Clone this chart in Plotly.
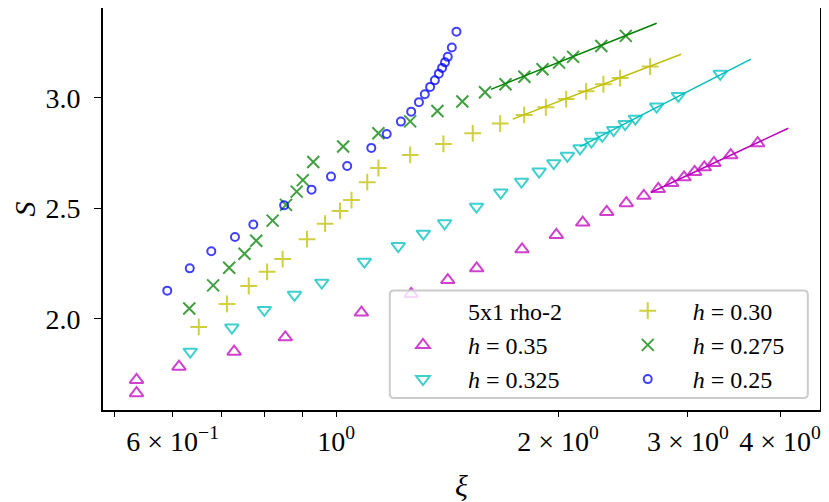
import plotly.graph_objects as go

# h = 0.25
xi_25 = [0.590, 0.633, 0.677, 0.729, 0.772, 0.850, 0.926, 0.984, 1.035, 1.116, 1.171, 1.224,
         1.264, 1.295, 1.319, 1.341, 1.361, 1.378, 1.392, 1.405, 1.417, 1.435, 1.456]
S_25 = [2.128, 2.229, 2.306, 2.371, 2.427, 2.514, 2.585, 2.644, 2.692, 2.774, 2.837, 2.893,
        2.938, 2.981, 3.017, 3.050, 3.080, 3.110, 3.136, 3.161, 3.186, 3.228, 3.300]

# h = 0.275
xi_275 = [0.632, 0.681, 0.716, 0.751, 0.779, 0.820, 0.855, 0.884, 0.901, 0.931, 1.022, 1.141,
          1.260, 1.372, 1.483, 1.592, 1.697, 1.800, 1.905, 2.006, 2.096, 2.289, 2.471]
S_275 = [2.047, 2.152, 2.232, 2.295, 2.354, 2.445, 2.516, 2.576, 2.628, 2.710, 2.780, 2.840,
         2.894, 2.941, 2.984, 3.026, 3.062, 3.096, 3.130, 3.160, 3.186, 3.235, 3.281]

# h = 0.30
xi_30 = [0.651, 0.711, 0.761, 0.806, 0.846, 0.913, 0.966, 1.012, 1.049, 1.102, 1.141, 1.260,
         1.398, 1.532, 1.669, 1.799, 1.925, 2.051, 2.183, 2.304, 2.427, 2.666]
S_30 = [1.964, 2.068, 2.149, 2.213, 2.271, 2.361, 2.431, 2.489, 2.538, 2.619, 2.683, 2.742,
        2.792, 2.840, 2.884, 2.923, 2.958, 2.995, 3.030, 3.062, 3.090, 3.142]

# h = 0.325
xi_325 = [0.634, 0.722, 0.799, 0.878, 0.956, 1.092, 1.214, 1.313, 1.403, 1.550, 1.672, 1.784,
          1.885, 1.973, 2.059, 2.142, 2.219, 2.296, 2.379, 2.466, 2.546, 2.721, 2.912, 3.319]
S_325 = [1.852, 1.961, 2.041, 2.109, 2.164, 2.259, 2.330, 2.386, 2.433, 2.508, 2.572, 2.621,
         2.667, 2.705, 2.738, 2.772, 2.802, 2.829, 2.855, 2.882, 2.906, 2.961, 3.009, 3.109]

# h = 0.35
xi_35 = [0.536, 0.536, 0.612, 0.727, 0.853, 1.082, 1.264, 1.417, 1.551, 1.787, 1.989, 2.160,
         2.328, 2.475, 2.614, 2.735, 2.852, 2.964, 3.064, 3.158, 3.254, 3.429, 3.730]
S_35 = [1.724, 1.664, 1.784, 1.852, 1.917, 2.029, 2.113, 2.176, 2.229, 2.315, 2.380, 2.436,
        2.484, 2.524, 2.557, 2.588, 2.615, 2.641, 2.665, 2.686, 2.706, 2.741, 2.795]

# fitted lines (end points)
fit_xi_275 = [1.621, 2.721]
fit_S_275 = [3.039, 3.338]
fit_xi_30 = [1.736, 2.937]
fit_S_30 = [2.904, 3.198]
fit_xi_325 = [2.142, 3.653]
fit_S_325 = [2.780, 3.176]
fit_xi_35 = [2.671, 4.105]
fit_S_35 = [2.572, 2.863]

tick_vals = [0.5, 0.6, 0.7, 0.8, 0.9, 1, 2, 3, 4]
tick_text = ["", "6 × 10<sup>−1</sup>", "", "", "", "10<sup>0</sup>",
             "2 × 10<sup>0</sup>", "3 × 10<sup>0</sup>", "4 × 10<sup>0</sup>"]

FONT = "Liberation Serif"

fig = go.Figure()

# fit lines first (drawn under markers, not in legend)
fits = [
    (fit_xi_35, fit_S_35, "#bf00bf"),
    (fit_xi_325, fit_S_325, "#00bfbf"),
    (fit_xi_30, fit_S_30, "#bfbf00"),
    (fit_xi_275, fit_S_275, "#008000"),
]
for fx, fy, c in fits:
    fig.add_trace(go.Scatter(x=fx, y=fy, mode="lines", line=dict(color=c, width=1.5),
                             showlegend=False, hoverinfo="skip"))

# name, x, y, symbol, colour, size, legend column
series = [
    ("<i>h</i> = 0.35", xi_35, S_35, "triangle-up-open", "rgba(191,0,191,0.75)", 12, "legend"),
    ("<i>h</i> = 0.325", xi_325, S_325, "triangle-down-open", "rgba(0,191,191,0.75)", 12, "legend"),
    ("<i>h</i> = 0.30", xi_30, S_30, "cross-thin-open", "rgba(191,191,0,0.75)", 12, "legend2"),
    ("<i>h</i> = 0.275", xi_275, S_275, "x-thin-open", "rgba(0,128,0,0.75)", 12, "legend2"),
    ("<i>h</i> = 0.25", xi_25, S_25, "circle-open", "rgba(0,0,255,0.75)", 8, "legend2"),
]

# empty entry used as legend heading
fig.add_trace(go.Scatter(x=[None], y=[None], mode="markers", name="5x1 rho-2",
                         marker=dict(color="rgba(0,0,0,0)", size=1),
                         legend="legend", legendgroup="head"))

for name, x, y, sym, col, sz, leg in series:
    fig.add_trace(go.Scatter(
        x=x, y=y, mode="markers", name=name, legend=leg, legendgroup=name,
        marker=dict(symbol=sym, size=sz, color=col, line=dict(color=col, width=2)),
    ))

# legend frame (semi-transparent, like matplotlib's framealpha)
x0, x1, y0, y1 = 0.400, 0.983, 0.030, 0.297
rx, ry = 0.006, 0.010
frame = (f"M {x0+rx},{y0} L {x1-rx},{y0} Q {x1},{y0} {x1},{y0+ry} "
         f"L {x1},{y1-ry} Q {x1},{y1} {x1-rx},{y1} L {x0+rx},{y1} "
         f"Q {x0},{y1} {x0},{y1-ry} L {x0},{y0+ry} Q {x0},{y0} {x0+rx},{y0} Z")
fig.add_shape(type="path", path=frame, xref="paper", yref="paper", layer="above",
              fillcolor="rgba(255,255,255,0.8)", line=dict(color="#cccccc", width=2))

leg_style = dict(
    yanchor="top", xanchor="left", orientation="v",
    bgcolor="rgba(0,0,0,0)", borderwidth=0, itemwidth=80,
    tracegroupgap=0, font=dict(family=FONT, size=24),
)

fig.update_layout(
    width=821, height=494,
    margin=dict(l=95, r=9, t=0, b=92, autoexpand=False),
    paper_bgcolor="white", plot_bgcolor="white",
    font=dict(family=FONT, size=28, color="black"),
    legend=dict(x=0.3835, y=0.302, **leg_style),
    legend2=dict(x=0.697, y=0.302, **leg_style),
    xaxis=dict(
        type="log", range=[-0.3163, 0.6563],
        tickvals=tick_vals, ticktext=tick_text, tickfont=dict(size=28),
        ticks="outside", ticklen=5, tickwidth=1.2, tickcolor="black",
        ticklabelstandoff=0,
        showline=True, linecolor="black", linewidth=2, mirror=True,
        showgrid=False, zeroline=False,
        title=dict(text="<i>ξ</i>", font=dict(size=30), standoff=20),
    ),
    yaxis=dict(
        range=[1.588, 3.407],
        tickvals=[2.0, 2.5, 3.0], ticktext=["2.0", "2.5", "3.0"], tickfont=dict(size=28),
        ticks="outside", ticklen=7, tickwidth=1.2, tickcolor="black",
        ticklabelstandoff=8,
        showline=True, linecolor="black", linewidth=2, mirror=True,
        showgrid=False, zeroline=False,
        title=dict(text="<i>S</i>", font=dict(size=30), standoff=14),
    ),
)

fig.write_html("out.html")
